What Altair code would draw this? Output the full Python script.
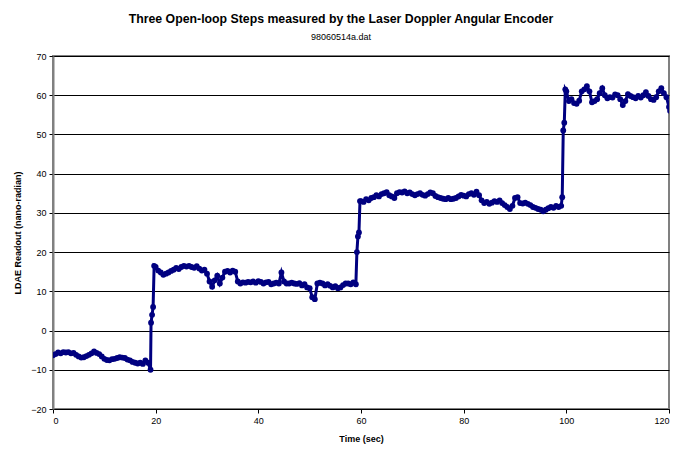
import altair as alt
import pandas as pd

t_seg1 = [0, 0.5, 1, 1.5, 2, 2.5, 3, 3.5, 4, 4.5, 5, 5.5, 6, 6.5, 7, 7.5, 8, 8.5, 9, 9.5,
          10, 10.5, 11, 11.5, 12, 12.5, 13, 13.5, 14, 14.5, 15, 15.5, 16, 16.5, 17, 17.5,
          18, 18.5, 19, 19.1, 19.3, 19.5, 19.7]
v_seg1 = [-6.3, -6.0, -5.6, -5.8, -5.5, -5.6, -5.5, -5.8, -5.7, -6.2, -6.6, -6.9, -6.8, -6.5,
          -6.2, -5.8, -5.3, -5.7, -6.0, -6.6, -7.2, -7.5, -7.6, -7.3, -7.2, -7.0, -6.8, -6.9,
          -7.0, -7.4, -7.6, -8.0, -8.2, -8.4, -8.2, -8.5, -7.6, -8.2, -10.0, 2.0, 4.0, 6.0, 16.5]

t_seg2 = [20, 20.5, 21, 21.5, 22, 22.5, 23, 23.5, 24, 24.5, 25, 25.5, 26, 26.5, 27, 27.5,
          28, 28.5, 29, 29.5, 30, 30.5, 31, 31.5, 32, 32.5, 33, 33.5, 34, 34.5, 35, 35.5,
          36, 36.5, 37, 37.5, 38, 38.5, 39, 39.5, 40, 40.5, 41, 41.5, 42, 42.5, 43, 43.5,
          44, 44.5, 45, 45.5, 46, 46.5, 47, 47.5, 48, 48.5, 49, 49.5, 50, 50.5, 51, 51.5,
          52, 52.5, 53, 53.5, 54, 54.5, 55, 55.5, 56, 56.5, 57, 57.5, 58, 58.5, 59,
          59.2, 59.4, 59.6, 59.8]
v_seg2 = [16.2, 15.3, 14.8, 14.2, 14.5, 14.8, 15.2, 15.5, 16.0, 15.7, 16.2, 16.5, 16.3, 16.5,
          16.2, 16.0, 16.4, 15.8, 15.3, 15.5, 14.5, 12.5, 11.2, 12.8, 14.0, 12.0, 13.5, 15.0,
          15.2, 14.8, 15.3, 15.0, 12.5, 12.0, 12.3, 12.2, 12.4, 12.3, 12.5, 12.2, 12.6, 12.4,
          12.0, 12.3, 12.4, 11.8, 12.0, 12.2, 12.0, 14.8, 12.5, 12.0, 12.0, 12.2, 12.0, 11.9,
          12.1, 11.5, 11.8, 11.0, 10.8, 8.5, 8.0, 12.0, 12.2, 12.0, 11.5, 11.8, 11.4, 11.0,
          11.3, 10.8, 11.0, 11.6, 12.0, 12.0, 11.8, 12.3, 11.8, 20.0, 24.0, 25.0, 33.0]

t_seg3 = [60, 60.5, 61, 61.5, 62, 62.5, 63, 63.5, 64, 64.5, 65, 65.5, 66, 66.5, 67, 67.5,
          68, 68.5, 69, 69.5, 70, 70.5, 71, 71.5, 72, 72.5, 73, 73.5, 74, 74.5, 75, 75.5,
          76, 76.5, 77, 77.5, 78, 78.5, 79, 79.5, 80, 80.5, 81, 81.5, 82, 82.5, 83, 83.5,
          84, 84.5, 85, 85.5, 86, 86.5, 87, 87.5, 88, 88.5, 89, 89.5, 90, 90.5, 91, 91.5,
          92, 92.5, 93, 93.5, 94, 94.5, 95, 95.5, 96, 96.5, 97, 97.5, 98, 98.5, 99,
          99.2, 99.4, 99.6, 99.8]
v_seg3 = [33.0, 32.8, 33.5, 33.2, 33.8, 34.0, 34.5, 34.2, 34.8, 35.0, 35.3, 34.5, 34.2, 33.8,
          35.0, 35.3, 35.2, 35.5, 35.0, 35.2, 34.8, 34.5, 34.8, 35.0, 34.6, 34.4, 34.8, 35.2,
          35.0, 34.3, 34.0, 33.8, 33.6, 33.5, 33.8, 33.5, 33.6, 33.8, 34.2, 34.6, 34.4, 34.2,
          34.8, 35.0, 34.6, 35.4, 34.5, 33.2, 32.5, 32.8, 32.3, 32.6, 33.0, 32.8, 33.2, 32.5,
          32.0, 31.5, 31.0, 31.8, 33.8, 34.0, 32.5, 32.4, 32.6, 32.3, 32.0, 31.5, 31.3, 31.0,
          30.8, 30.4, 30.8, 31.2, 31.5, 31.3, 31.8, 31.5, 31.8, 34.0, 51.0, 53.0, 61.5]

t_seg4 = [100, 100.5, 101, 101.5, 102, 102.5, 103, 103.5, 104, 104.5, 105, 105.5, 106, 106.5,
          107, 107.5, 108, 108.5, 109, 109.5, 110, 110.5, 111, 111.5, 112, 112.5, 113, 113.5,
          114, 114.5, 115, 115.5, 116, 116.5, 117, 117.5, 118, 118.5, 119, 119.5, 120, 120.2]
v_seg4 = [61.0, 58.5, 59.0, 58.0, 57.8, 58.6, 61.0, 61.5, 62.3, 61.0, 58.2, 58.5, 59.0, 60.5,
          61.8, 60.0, 59.2, 59.5, 59.4, 60.2, 60.0, 59.0, 57.5, 58.5, 60.3, 59.8, 59.5, 59.2,
          59.8, 59.4, 60.0, 60.8, 59.8, 59.0, 58.8, 59.5, 61.0, 61.8, 60.5, 59.5, 57.0, 56.0]

x_ticks = [0, 20, 40, 60, 80, 100, 120]
y_ticks = [-20, -10, 0, 10, 20, 30, 40, 50, 60, 70]

df = pd.DataFrame({
    "t": t_seg1 + t_seg2 + t_seg3 + t_seg4,
    "v": v_seg1 + v_seg2 + v_seg3 + v_seg4,
})

FONT = "Liberation Sans"

chart = alt.Chart(df).mark_line(
    color="#000080", strokeWidth=3, clip=True,
    point=alt.OverlayMarkDef(filled=True, color="#000080", size=34, clip=True),
).encode(
    x=alt.X("t:Q", scale=alt.Scale(domain=[0, 120], nice=False),
            axis=alt.Axis(values=x_ticks, title="Time (sec)", grid=False)),
    y=alt.Y("v:Q", scale=alt.Scale(domain=[-20, 70], nice=False),
            axis=alt.Axis(values=y_ticks, title="LDAE Readout (nano-radian)", grid=True)),
).properties(
    width=616, height=353,
    autosize=alt.AutoSizeParams(type="none"),
    padding={"left": 45, "top": 48, "right": 5, "bottom": 44},
    title=alt.TitleParams(
        text="Three Open-loop Steps measured by the Laser Doppler Angular Encoder",
        subtitle="98060514a.dat",
        font=FONT, fontSize=12.3, fontWeight="bold", color="black",
        subtitleFont=FONT, subtitleFontSize=9, subtitleColor="black",
        subtitlePadding=8, anchor="middle", dx=-20, offset=10,
    ),
).configure_view(
    stroke="#808080", strokeWidth=2,
).configure_axis(
    labelFont=FONT, labelFontSize=9, labelColor="black",
    titleFont=FONT, titleFontSize=9, titleFontWeight="bold", titleColor="black",
    gridColor="black", gridWidth=1, gridOpacity=1,
    domainColor="#808080", domainWidth=2,
    tickColor="black", tickSize=4,
    labelPadding=3,
).configure_axisY(
    titlePadding=8,
).configure_axisX(
    titlePadding=9, domainColor="black", domainWidth=1,
)

chart.save("out.html", embed_options={"renderer": "svg", "actions": False})
